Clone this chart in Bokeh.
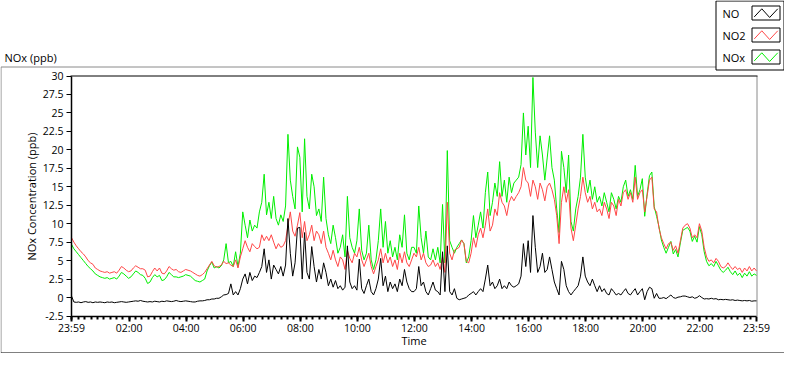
from bokeh.plotting import figure
from bokeh.models import Range1d, FixedTicker
from bokeh.core.properties import value
from bokeh.embed import file_html
from bokeh.resources import INLINE

# ---------------- data (5-minute samples starting 23:59) ----------------
STEP_MIN = 5

no2 = [
    8.1, 7.5, 7.0, 6.6, 6.2, 5.9, 5.5, 5.0, 4.7, 4.5, 4.0, 3.8,
    3.6, 3.5, 3.4, 3.5, 3.3, 3.4, 3.5, 3.3, 3.7, 4.2, 4.0, 3.7,
    3.5, 3.6, 4.0, 4.3, 4.1, 3.9, 3.9, 3.7, 2.8, 2.9, 3.5, 4.0,
    3.6, 4.0, 3.3, 3.2, 3.6, 4.2, 3.9, 3.7, 3.8, 3.5, 3.4, 3.6,
    3.8, 3.7, 3.6, 3.4, 3.2, 3.0, 2.9, 3.1, 3.4, 3.9, 4.4, 4.9,
    4.3, 4.1, 4.2, 4.4, 4.9, 4.6, 4.7, 4.4, 4.2, 5.1, 4.0, 5.5,
    6.6, 7.7, 6.8, 6.2, 7.3, 6.9, 6.6, 6.8, 8.5, 7.7, 8.3, 7.7,
    8.5, 7.5, 6.6, 7.3, 6.8, 7.0, 7.7, 9.8, 11.6, 9.0, 8.3, 9.8,
    11.5, 8.1, 10.3, 7.7, 8.5, 9.8, 7.7, 9.0, 8.5, 7.3, 9.0, 6.8,
    6.0, 5.1, 6.4, 5.1, 4.2, 5.5, 5.1, 3.8, 6.4, 5.3, 4.7, 6.0,
    5.5, 6.8, 5.1, 4.2, 5.1, 6.0, 4.2, 3.2, 4.2, 5.1, 6.6, 4.7,
    6.0, 4.7, 5.5, 4.2, 5.1, 3.8, 6.0, 4.7, 6.2, 4.7, 4.2, 5.1,
    6.0, 5.5, 6.8, 5.1, 6.0, 4.7, 4.2, 4.4, 5.1, 4.2, 4.7, 3.8,
    5.5, 3.4, 12.9, 6.0, 5.1, 6.4, 6.6, 6.8, 7.8, 7.3, 4.9, 4.7,
    6.0, 8.1, 6.8, 8.5, 9.4, 8.1, 9.8, 12.0, 9.0, 9.8, 12.0, 11.1,
    14.2, 12.9, 12.4, 11.1, 12.9, 13.7, 13.1, 13.7, 14.2, 15.0, 17.6, 15.9,
    15.5, 13.7, 15.9, 15.0, 13.3, 15.5, 14.6, 13.1, 15.0, 15.5, 14.6, 13.3,
    11.1, 7.3, 12.9, 15.0, 12.9, 14.6, 9.4, 7.7, 9.8, 12.0, 13.7, 16.3,
    14.2, 12.9, 13.7, 12.0, 12.9, 11.6, 12.0, 11.1, 12.9, 12.0, 10.7, 12.9,
    12.4, 11.1, 13.3, 12.4, 14.2, 14.6, 13.3, 14.2, 12.9, 16.3, 13.3, 14.2,
    14.6, 11.6, 13.7, 15.9, 16.3, 12.0, 11.6, 9.4, 8.1, 7.3, 6.6, 7.3,
    7.5, 6.4, 7.0, 6.0, 7.7, 9.4, 9.8, 10.0, 9.4, 8.1, 8.5, 8.1,
    10.0, 9.0, 6.8, 5.5, 4.9, 5.1, 4.7, 5.3, 4.9, 4.2, 4.0, 4.2,
    4.7, 4.2, 3.8, 4.2, 3.8, 4.0, 3.4, 4.0, 3.6, 4.2, 3.6, 4.0,
    3.6,
]

nox = [
    7.2, 6.6, 6.2, 5.8, 5.4, 5.0, 4.6, 4.2, 3.9, 3.6, 3.2, 3.0,
    2.8, 2.7, 2.6, 2.7, 2.5, 2.6, 2.7, 2.5, 2.9, 3.4, 3.2, 2.9,
    2.6, 2.8, 3.2, 3.6, 3.4, 3.1, 3.0, 2.6, 1.9, 2.1, 2.7, 3.1,
    2.8, 3.0, 2.3, 2.4, 2.8, 3.4, 3.1, 2.8, 2.8, 2.7, 2.8, 2.9,
    3.1, 3.0, 2.9, 2.6, 2.3, 2.2, 2.1, 2.3, 2.5, 3.6, 4.3, 4.8,
    4.0, 4.2, 4.0, 4.3, 5.1, 7.3, 4.7, 4.9, 4.2, 6.2, 4.2, 6.0,
    11.6, 9.8, 8.1, 10.5, 9.0, 9.8, 9.4, 11.6, 12.9, 16.7, 11.2, 12.9,
    10.7, 13.7, 10.7, 9.8, 11.2, 10.3, 12.4, 22.1, 15.9, 13.7, 12.0, 20.4,
    19.0, 11.6, 21.5, 13.7, 12.0, 16.7, 15.0, 11.1, 12.0, 10.3, 16.3, 10.7,
    8.5, 7.3, 9.8, 8.1, 6.0, 6.8, 8.5, 5.5, 13.7, 8.1, 6.8, 6.0,
    7.7, 12.0, 6.4, 5.1, 6.0, 9.8, 5.1, 3.8, 5.1, 7.7, 12.0, 6.8,
    10.3, 6.0, 7.7, 5.5, 6.8, 5.1, 8.5, 6.8, 11.2, 6.0, 5.1, 6.8,
    6.8, 6.0, 12.4, 8.1, 6.0, 9.0, 5.5, 5.1, 6.6, 5.1, 6.8, 4.7,
    12.6, 4.7, 19.9, 7.7, 6.8, 6.0, 6.8, 7.3, 7.8, 7.3, 4.7, 5.5,
    7.7, 11.1, 8.1, 9.8, 11.6, 9.4, 14.2, 17.0, 11.1, 12.9, 15.5, 13.7,
    18.4, 13.7, 15.9, 12.9, 16.3, 14.2, 15.5, 15.9, 16.3, 18.0, 25.0, 19.3,
    23.2, 17.6, 29.8, 22.4, 17.6, 21.9, 19.3, 15.9, 18.9, 21.9, 17.6, 15.9,
    12.0, 8.8, 19.8, 17.6, 14.2, 19.3, 10.3, 9.0, 12.0, 13.7, 16.3, 22.1,
    16.3, 14.2, 15.9, 13.3, 15.0, 12.9, 13.7, 12.4, 14.2, 12.9, 11.6, 14.2,
    13.3, 12.0, 13.7, 12.9, 15.0, 15.9, 13.7, 14.6, 13.3, 17.9, 13.7, 14.6,
    16.1, 11.0, 14.0, 16.5, 17.0, 12.3, 11.0, 9.6, 7.8, 6.8, 6.0, 6.8,
    7.6, 5.9, 6.5, 5.5, 7.4, 9.1, 9.3, 9.5, 9.0, 7.6, 8.3, 7.5,
    9.6, 8.5, 6.2, 4.9, 4.3, 4.6, 4.2, 4.9, 4.3, 3.7, 3.4, 3.7,
    4.1, 3.5, 3.1, 3.6, 3.0, 3.3, 2.7, 3.3, 2.9, 3.5, 2.9, 3.2,
    3.0,
]

no = [
    0.2, -0.6, -0.65, -0.6, -0.7, -0.6, -0.55, -0.65, -0.6, -0.7, -0.6, -0.65,
    -0.6, -0.65, -0.7, -0.6, -0.65, -0.6, -0.7, -0.65, -0.6, -0.55, -0.6, -0.65,
    -0.6, -0.55, -0.5, -0.45, -0.5, -0.4, -0.5, -0.55, -0.6, -0.55, -0.6, -0.5,
    -0.55, -0.6, -0.5, -0.55, -0.45, -0.5, -0.55, -0.5, -0.4, -0.5, -0.55, -0.5,
    -0.45, -0.5, -0.55, -0.6, -0.6, -0.5, -0.45, -0.45, -0.4, -0.3, -0.3, -0.2,
    -0.2, -0.1, -0.1, 0.1, 0.35, 0.4, 0.55, 1.85, 0.35, 0.8, 0.35, 1.2,
    2.5, 3.2, 1.85, 3.4, 2.3, 2.9, 2.7, 3.4, 4.2, 6.6, 3.4, 5.1,
    2.5, 4.4, 3.8, 3.2, 4.2, 2.9, 4.4, 10.7, 6.0, 2.9, 4.7, 9.4,
    9.5, 2.5, 8.8, 3.4, 2.5, 6.9, 4.2, 2.1, 3.8, 2.5, 4.7, 3.4,
    1.6, 2.5, 1.4, 2.3, 1.2, 1.6, 1.0, 1.4, 7.0, 2.1, 1.2, 1.6,
    1.0, 5.2, 1.2, 0.55, 1.6, 2.5, 0.8, 0.35, 1.2, 2.5, 5.3, 1.6,
    2.9, 0.8, 2.1, 1.2, 1.85, 0.8, 2.5, 1.6, 3.8, 2.1, 1.2, 0.8,
    0.8, 1.2, 4.2, 1.6, 2.1, 0.8, 0.35, 1.2, 2.1, 1.0, 0.8, 0.35,
    6.2, 0.8, 7.0, 0.8, 0.35, 1.2, -0.1, -0.3, -0.2, -0.1, 0.0, 0.35,
    0.55, 0.8, 0.35, 0.8, 1.2, 0.8, 2.5, 4.4, 1.6, 2.1, 1.2, 1.6,
    2.5, 1.2, 1.6, 1.2, 2.1, 1.6, 1.4, 1.6, 1.85, 2.9, 7.3, 4.2,
    7.7, 3.4, 11.1, 6.8, 3.4, 4.2, 6.0, 3.4, 3.8, 5.5, 3.8, 2.1,
    1.2, 0.35, 4.9, 3.8, 1.6, 0.8, 0.35, 0.8, 1.2, 1.6, 2.9, 5.5,
    2.9, 2.1, 1.6, 2.5, 1.6, 0.8, 1.6, 0.8, 1.2, 0.55, 0.35, 1.2,
    0.8, 0.35, 0.55, 0.35, 0.8, 1.2, 0.55, 0.35, 0.8, 1.2, 0.35, 0.8,
    1.2, -0.3, 0.8, 1.4, 1.2, -0.1, 0.55, -0.1, -0.1, 0.0, -0.15, 0.1,
    0.35, 0.0, -0.1, 0.05, 0.1, 0.2, 0.2, 0.1, 0.0, 0.1, -0.1, 0.0,
    0.25, 0.0, -0.2, -0.15, -0.2, -0.1, -0.2, -0.15, -0.3, -0.25, -0.3, -0.25,
    -0.3, -0.35, -0.3, -0.4, -0.35, -0.4, -0.45, -0.4, -0.45, -0.4, -0.5, -0.45,
    -0.45,
]

series_names = ["NO", "NO2", "NOx"]
series_colors = ["#000000", "#ff4646", "#00ee00"]

x_tick_minutes = [0, 121, 241, 361, 481, 601, 721, 841, 961, 1081, 1201, 1321, 1440]
x_tick_labels = ["23:59", "02:00", "04:00", "06:00", "08:00", "10:00", "12:00",
                 "14:00", "16:00", "18:00", "20:00", "22:00", "23:59"]
y_ticks = [-2.5, 0, 2.5, 5, 7.5, 10, 12.5, 15, 17.5, 20, 22.5, 25, 27.5, 30]
y_tick_labels = ["-2.5", "0", "2.5", "5", "7.5", "10", "12.5", "15", "17.5",
                 "20", "22.5", "25", "27.5", "30"]

# ---------------- layout (canvas pixels) ----------------
W, H = 784, 353
FL, FR, FT, FB = 71, 756, 75.5, 315.5     # plot-area edges on the canvas
X0, X1 = 0, 1440
Y0, Y1 = -2.5, 30
FONT = "Open Sans"
FS = "11px"
FS_TICK = "10.5px"


def px2x(cx):
    return X0 + (cx - FL) / (FR - FL) * (X1 - X0)


def px2y(cy):
    return Y1 - (cy - FT) / (FB - FT) * (Y1 - Y0)


p = figure(width=W, height=H, output_backend="svg", toolbar_location=None,
           x_range=Range1d(px2x(0), px2x(W)), y_range=Range1d(px2y(H), px2y(0)),
           min_border=0, background_fill_color="white", border_fill_color="white")
p.grid.visible = False
p.outline_line_color = None

minor = [1 + k * 40 / 3 for k in range(0, 109) if 1 + k * 40 / 3 <= 1440]
xa = p.xaxis[0]
xa.fixed_location = Y0
xa.bounds = (X0, X1)
xa.ticker = FixedTicker(ticks=x_tick_minutes, minor_ticks=minor)
xa.major_label_overrides = {t: lab for t, lab in zip(x_tick_minutes, x_tick_labels)}
xa.axis_label = "Time"
xa.axis_label_standoff = -6
xa.major_label_standoff = 0
xa.major_tick_out = 5
xa.major_tick_in = 0
xa.minor_tick_out = 3
xa.minor_tick_in = 0
xa.major_tick_line_width = 2
xa.minor_tick_line_width = 2

ya = p.yaxis[0]
ya.fixed_location = X0
ya.bounds = (Y0, Y1)
ya.ticker = FixedTicker(ticks=y_ticks, minor_ticks=[])
ya.major_label_overrides = {t: lab for t, lab in zip(y_ticks, y_tick_labels)}
ya.axis_label = "NOx Concentration (ppb)"
ya.axis_label_standoff = 1
ya.major_label_standoff = 3
ya.major_tick_out = 5
ya.major_tick_in = 0
ya.minor_tick_out = 0
ya.minor_tick_in = 0

for ax in (xa, ya):
    ax.axis_line_color = "black"
    ax.axis_line_width = 1.5
    ax.major_tick_line_color = "black"
    ax.minor_tick_line_color = "black"
    ax.major_label_text_font = FONT
    ax.major_label_text_font_size = FS_TICK
    ax.major_label_text_color = "black"
    ax.axis_label_text_font = FONT
    ax.axis_label_text_font_size = FS
    ax.axis_label_text_font_style = "normal"
    ax.axis_label_text_color = "black"

# ---------------- frame decorations (pixel layout) ----------------
def segs(items, color, width=1):
    p.segment(x0=[px2x(s[0]) for s in items], y0=[px2y(s[1]) for s in items],
              x1=[px2x(s[2]) for s in items], y1=[px2y(s[3]) for s in items],
              line_color=color, line_width=width)

LEG_L, LEG_R, LEG_B = 715.5, 783.5, 69.5
segs([(0.5, 66.5, LEG_L, 66.5), (0.5, 66.5, 0.5, 352.5)], "#8a8a8a")
segs([(0.5, 352.5, W, 352.5)], "black")
# plot area top (black) and right (grey) edges
segs([(FR + 0.5, FT, FR + 0.5, FB)], "#8a8a8a")
segs([(FL - 1, FT, FR + 1, FT)], "black")

# ---------------- series ----------------
series = {"NO": no, "NO2": no2, "NOx": nox}
for name in ["NOx", "NO2", "NO"]:
    vals = series[name]
    times = [i * STEP_MIN for i in range(len(vals))]
    color = series_colors[series_names.index(name)]
    p.line(times, vals, line_color=color, line_width=1)

# ---------------- legend (text left, swatch right) ----------------
segs([(LEG_L, 0.5, LEG_L, LEG_B), (LEG_L, LEG_B, LEG_R, LEG_B),
      (LEG_R, 0.5, LEG_R, LEG_B), (LEG_L, 0.5, LEG_R, 0.5)], "black")
entry_cy = [12.5, 34.5, 56.5]
SW_L, SW_R, SW_H = 751.5, 779.5, 14
p.text(x=[px2x(722)] * 3, y=[px2y(c) for c in entry_cy], text=series_names,
       text_font=value(FONT), text_font_size=value(FS), text_color="black",
       text_align="left", text_baseline="middle")
for color, cy in zip(series_colors, entry_cy):
    top, bot = cy - SW_H / 2, cy + SW_H / 2
    segs([(SW_L, top, SW_R, top), (SW_R, top, SW_R, bot),
          (SW_R, bot, SW_L, bot), (SW_L, bot, SW_L, top)], "black")
    w = SW_R - SW_L
    zx = [SW_L + f * w for f in (0.08, 0.35, 0.63, 0.92)]
    zy = [top + f * SW_H for f in (0.78, 0.2, 0.82, 0.2)]
    p.line([px2x(v) for v in zx], [px2y(v) for v in zy], line_color=color, line_width=1)

# graph caption
p.text(x=[px2x(4)], y=[px2y(57)], text=["NOx (ppb)"], text_font=value(FONT),
       text_font_size=value(FS), text_color="black",
       text_align="left", text_baseline="middle")

open("out.html", "w").write(file_html(p, INLINE))
